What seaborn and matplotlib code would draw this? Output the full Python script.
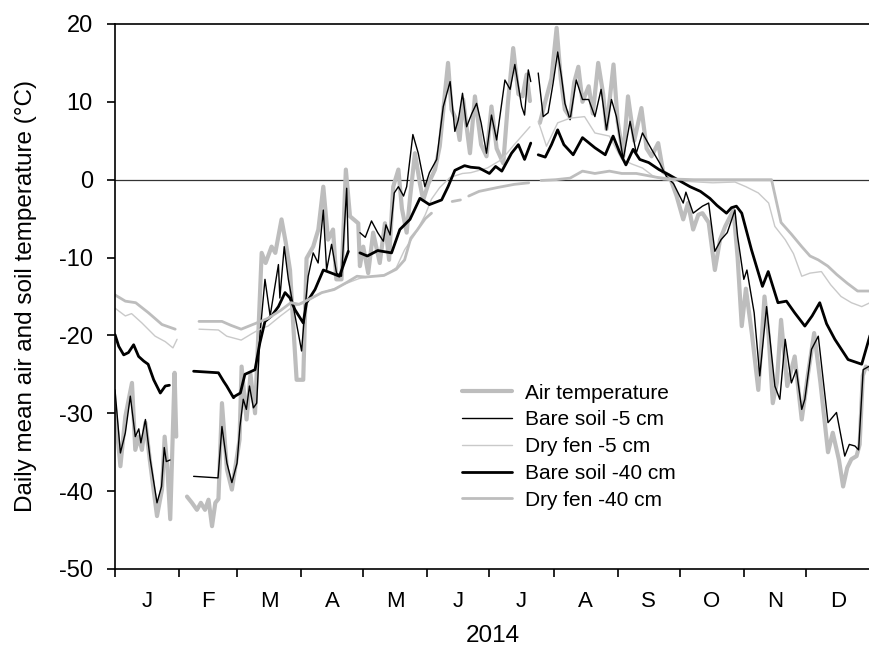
import numpy as np
import pandas as pd
import matplotlib
matplotlib.use('Agg')
import matplotlib.pyplot as plt
from matplotlib.lines import Line2D
import seaborn as sns

nan = np.nan

# day of year (0 = 1 Jan 2014) and daily means, NaN = gap
air_days = [0, 2.6, 5, 8.2, 9.8, 11.5, 13, 14.7, 17, 20.3, 22.7, 24, 25.3, 26.7, 28.8, 29.6, 32,
            34.8, 37.2, 39.6, 41.5, 43.5, 45.2, 46.9, 48.5, 50, 51.7, 54.1, 56.5, 59, 60.2, 61.2, 63.6,
            65.5, 67.7, 70.9, 72.8, 75.7, 77.5, 80.5, 82.5, 84.6, 86.2, 87.8, 91, 92.6, 95.8, 98.3,
            100.7, 103, 105.4, 107, 109.5, 111.6, 113.6, 117.6, 118.4, 120, 122.4, 124.8, 128, 130.5,
            132.5, 134.5, 137, 138.7, 141, 142.6, 145, 147.4, 149, 151.5, 154.7, 157, 159.5, 161,
            162.7, 165, 166.6, 168.3, 171.6, 174, 177, 179.6, 182, 184.5, 187.7, 190, 192.5, 195, 197,
            199, 200.6, 202.5, 205.4, 208, 211, 213.5, 215.5, 217.5, 220, 222, 224, 226, 229, 231,
            233.6, 236, 237.6, 241, 243, 245.7, 248, 251, 254.5, 257, 259.4, 262.6, 265, 268, 271.5,
            274.7, 277, 279.5, 282, 284, 287, 290, 292.5, 295, 299, 301, 303, 305, 308, 311, 314, 316,
            318, 320, 322, 325, 328.6, 332, 335, 338, 341, 344.7, 347, 350, 352, 354, 356, 358.5, 360,
            361.5, 363, 365]
air_temp = [-29.5, -36.8, -30.4, -26.1, -34.7, -33.0, -34.7, -31.2, -36.4, -43.2, -39.8, -33.0, -37.0,
            -43.6, -24.8, -33.0, nan,
            -40.7, -41.5, -42.4, -41.5, -42.4, -41.1, -44.5, -41.5, -41.0, -28.7, -37.2, -39.8, -35.5,
            -33.4, -24.0, -30.8, -25.0, -30.0, -9.4, -10.7, -8.6, -9.4, -5.1, -8.0, -11.6, -18.8, -25.7,
            -25.7, -10.1, -8.6, -6.4, -0.9, -7.7, -6.4, -12.8, -12.8, 1.3, -4.7, -5.6, -11.1, -8.6,
            -12.0, -6.8, -10.7, -5.6, -10.3, -0.9, 1.3, -3.7, -6.8, -2.4, 3.4, -0.5, -2.6, -0.5, 1.3,
            4.3, 11.1, 15.0, 9.0, 7.7, 5.1, 10.3, 3.4, 10.7, 4.5, 3.0, 9.4, 4.0, 2.1, 10.0, 16.9, 11.0,
            10.7, 13.5, 10.1, nan, 7.3, 10.0, 13.0, 19.5, 13.0, 9.0, 8.0, 12.5, 14.5, 10.0, 12.0, 8.5,
            15.0, 11.0, 6.5, 14.8, 7.5, 3.0, 10.7, 5.0, 9.2, 4.0, 3.0, 4.7, 1.0, 0.5, -2.1, -5.1, -3.0,
            -6.4, -4.5, -4.3, -5.5, -11.6, -7.7, -6.0, -3.9, -10.0, -18.8, -14.0, -20.0, -27.0, -15.0,
            -20.0, -28.7, -26.0, -18.0, -26.5, -22.7, -30.8, -25.0, -19.7, -26.0, -35.0, -32.5, -36.0,
            -39.4, -37.0, -35.9, -35.5, -34.0, -25.2, -24.0, -24.4]

bare5_days = [0, 2.6, 5, 7.4, 9.8, 11.5, 12.5, 14.7, 17, 20.3, 22.5, 23.8, 24.8, 26.6, 32,
              38, 49.8, 51.7, 54.1, 56.5, 59, 60.4, 62, 63.5, 65, 66.9, 68.5, 70, 72.5, 75, 77.3, 79,
              79.7, 81.8, 83.8, 86.2, 88.6, 90.2, 91.8, 93.4, 95.8, 98.2, 100.7, 102.3, 104.7, 107.1,
              109.5, 112, 112.8, 115, 118.4, 121, 124, 127, 129.7, 131, 133, 135, 137, 139.5, 141, 144,
              146.6, 149.8, 152, 155.5, 158.7, 162, 164.3, 166, 168, 170, 172.5, 174.8, 177, 179.6, 182,
              184.5, 188.5, 191, 193.3, 196.6, 198, 199.8, 201, 203, 204.6, 207, 209.4, 211.8, 214,
              215.8, 217.5, 220, 223, 226, 229, 232, 235, 237.6, 240, 242.4, 245.7, 249, 252, 255,
              259.4, 263.4, 266.6, 270, 274.7, 276, 279.5, 284, 287, 290, 293, 296, 299.7, 301, 304,
              305.5, 309, 311.7, 315, 319, 321.4, 324, 327, 329.4, 332, 333.5, 336.7, 340, 344.7, 348.8,
              352.8, 355, 357.7, 359.5, 361.7, 365]
bare5_temp = [-27.0, -35.1, -32.5, -27.8, -33.0, -32.0, -33.8, -30.8, -35.9, -41.5, -39.4, -34.4, -36.2,
              -36.0, nan,
              -38.1, -38.3, -31.7, -36.4, -38.9, -36.4, -31.7, -28.2, -29.5, -26.5, -29.3, -28.7, -20.1,
              -12.8, -17.5, -13.7, -10.9, -15.2, -8.6, -12.8, -16.3, -19.7, -22.0, -16.7, -12.4, -9.4,
              -10.7, -3.9, -11.6, -8.3, -12.0, -12.4, -1.1, -9.4, nan,
              -6.8, -7.4, -5.3, -6.8, -7.9, -5.8, -7.1, -1.7, -0.9, -2.1, -0.9, 5.8, 3.4, -0.9, 0.9, 2.6,
              9.4, 12.6, 6.2, 7.7, 11.1, 6.8, 8.5, 9.8, 7.3, 3.4, 8.3, 5.1, 12.8, 11.6, 14.8, 9.4, 8.3,
              14.1, 12.6, nan,
              13.7, 8.1, 8.6, 12.4, 16.4, 13.3, 9.8, 7.7, 12.8, 10.3, 10.3, 8.1, 11.6, 6.4, 10.3, 8.1,
              2.6, 7.5, 3.4, 6.0, 3.9, 2.1, 0.4, -0.5, -3.0, -1.6, -4.3, -3.4, -3.0, -9.2, -7.7, -6.8,
              -3.9, -7.3, -12.8, -11.6, -17.1, -25.2, -16.3, -26.5, -28.2, -20.5, -26.1, -24.4, -29.5,
              -28.2, -21.8, -20.1, -31.2, -29.9, -35.5, -34.0, -34.2, -34.7, -24.4, -23.9]

fen5_days = [0, 5, 8, 13, 19.4, 24.3, 28, 30, 35,
             40.6, 50, 54, 61, 66, 70, 74, 80, 86, 92, 100, 106, 112, 118, 125, 131, 136, 140, 145,
             150, 153, 157, 162, 168, 172, 180, 187, 193, 200.6, 202.5,
             204.6, 208.6, 214, 220, 227, 232, 239, 245, 250, 255, 260, 265, 275, 289, 299.7, 305,
             311, 316, 319, 324, 328, 332, 336, 341.5, 346, 351, 356, 361, 365]
fen5_temp = [-16.5, -17.5, -17.2, -18.4, -20.1, -20.8, -21.6, -20.5, nan,
             -19.2, -19.3, -20.1, -20.6, -19.8, -19.2, -18.8, -17.5, -16.3, -15.8, -14.5, -14.0,
             -13.3, -12.7, -12.4, -12.2, -11.3, -9.0, -7.0, -4.5, -2.5, -1.0, 0.3, 0.8, 0.9, 1.5,
             2.6, 4.5, 6.8, nan,
             7.5, 4.3, 7.3, 7.9, 8.1, 6.0, 5.6, 2.6, 2.0, 1.5, 0.5, 0.0, -0.2, -0.4, -0.3, -0.9,
             -1.7, -3.0, -6.0, -7.7, -9.5, -12.4, -12.0, -11.8, -13.5, -15.0, -15.8, -16.3, -15.8]

bare40_days = [0, 1.8, 4.2, 6.5, 9, 11.4, 13.9, 16, 18.7, 21.9, 24.3, 26.3, 32,
               38, 50, 52.5, 54, 57.3, 58, 60.6, 62.8, 67.7, 70, 72.5, 75.7, 79, 82.2, 84.6, 87, 91,
               92.6, 96.7, 100.7, 104.7, 108.5, 112.8, 115,
               118.4, 122, 127, 133.7, 137.7, 142.6, 147.4, 152, 157.9, 161, 164.3, 169, 172, 176,
               181, 184, 187, 191.7, 195, 198, 201, 203,
               204.6, 208, 211, 214, 217, 221.5, 226, 232, 237, 240.8, 244, 247, 250.5, 253.7, 258,
               263, 268, 272, 278, 283, 287.6, 291, 295.6, 298, 300.4, 303, 307.7, 313, 315.8, 320.5,
               324.6, 328.6, 333.5, 337, 340.7, 344, 348, 354.4, 361, 365]
bare40_temp = [-19.9, -21.4, -22.5, -22.2, -21.2, -22.7, -23.3, -23.7, -25.7, -27.4, -26.5, -26.4, nan,
               -24.6, -24.8, -25.9, -26.5, -28.0, -27.8, -27.4, -25.0, -24.4, -21.0, -18.2, -17.5,
               -16.3, -14.5, -15.2, -16.7, -18.4, -15.8, -14.1, -11.6, -12.0, -12.4, -9.2, nan,
               -9.4, -9.8, -9.1, -9.4, -6.4, -5.1, -2.4, -3.2, -2.6, -0.9, 1.2, 1.8, 1.6, 1.5, 0.8,
               1.7, 1.1, 3.4, 4.5, 2.6, 4.7, nan,
               3.2, 2.9, 4.5, 6.4, 4.5, 3.2, 5.4, 4.1, 3.2, 5.6, 3.5, 1.9, 3.9, 2.6, 2.2, 1.3, 0.6,
               0.0, -0.9, -1.5, -2.4, -3.3, -4.3, -3.6, -3.4, -4.3, -9.0, -13.7, -11.8, -15.8, -15.6,
               -17.1, -18.8, -17.5, -15.8, -18.5, -20.5, -23.1, -23.7, -20.0]

fen40_days = [0, 5, 10, 16.2, 22.7, 29.1, 35,
              40.6, 51.7, 56, 61, 68.5, 74, 80, 85, 89, 95, 100, 106, 112, 117, 121, 130, 136, 140,
              143, 146, 150, 153, 157,
              163, 167, 168.5,
              171, 176, 185, 193, 200, 202,
              206, 213, 220, 226, 232, 239, 245, 252, 258, 262, 268, 280, 300, 317.4, 322, 327, 332,
              336, 340, 344.6, 349, 354, 359, 365]
fen40_temp = [-14.8, -15.6, -15.8, -17.1, -18.6, -19.2, nan,
              -18.2, -18.2, -18.7, -19.2, -18.4, -17.8, -16.8, -15.8, -16.0, -15.2, -14.5, -14.1,
              -13.2, -12.4, -12.5, -12.3, -11.5, -10.3, -7.5, -6.5, -5.0, -4.3, nan,
              -2.8, -2.6, nan,
              -2.1, -1.5, -1.0, -0.6, -0.4, nan,
              -0.1, 0.0, 0.2, 1.1, 0.8, 1.1, 0.8, 0.8, 0.5, 0.3, 0.1, 0.0, 0.0, 0.0, -5.5, -7.0,
              -8.6, -9.8, -10.3, -11.1, -12.2, -13.3, -14.3, -14.3]

month_starts = [0, 31, 59, 90, 120, 151, 181, 212, 243, 273, 304, 334, 365]
month_labels = ['J', 'F', 'M', 'A', 'M', 'J', 'J', 'A', 'S', 'O', 'N', 'D']

series = [
    ('Air temperature', air_days, air_temp, '#bdbdbd', 3.0),
    ('Bare soil -5 cm', bare5_days, bare5_temp, 'black', 1.0),
    ('Dry fen -5 cm', fen5_days, fen5_temp, '#c9c9c9', 1.0),
    ('Bare soil -40 cm', bare40_days, bare40_temp, 'black', 2.0),
    ('Dry fen -40 cm', fen40_days, fen40_temp, '#bdbdbd', 2.0),
]

sns.set_style('ticks', {'text.color': 'black', 'axes.labelcolor': 'black',
                        'xtick.color': 'black', 'ytick.color': 'black'})
plt.rcParams['font.family'] = ['Liberation Sans', 'DejaVu Sans']
plt.rcParams['axes.unicode_minus'] = False

fig = plt.figure(figsize=(8.7, 6.46), dpi=100)
ax = fig.add_axes([0.1322, 0.1192, 0.8678, 0.8437])

ax.axhline(0, color='#333333', lw=0.9, zorder=0.5)

handles = []
for name, days, temps, color, lw in series:
    df = pd.DataFrame({'day': days, 'temp': temps})
    df['seg'] = df['temp'].isna().cumsum()
    df = df.dropna()
    sns.lineplot(data=df, x='day', y='temp', units='seg', estimator=None, sort=False,
                 color=color, lw=lw, ax=ax, legend=False)
    handles.append(Line2D([], [], color=color, lw=lw, label=name))

ax.set_xlim(0, 365)
ax.set_ylim(-50, 20)
ax.set_yticks(range(-50, 21, 10))
ax.set_xticks(month_starts[:-1])
ax.set_xticklabels([])
ax.set_xticks([(a + b) / 2 for a, b in zip(month_starts[:-1], month_starts[1:])], minor=True)
ax.set_xticklabels(month_labels, minor=True)
ax.tick_params(axis='x', which='major', direction='out', length=6, width=1.2, colors='black')
ax.tick_params(axis='x', which='minor', length=0, pad=16, labelsize=16, labelcolor='black')
ax.tick_params(axis='y', direction='out', length=6, width=1.2, pad=10, labelsize=17,
               colors='black')

for side in ['left', 'bottom', 'top']:
    ax.spines[side].set_visible(True)
    ax.spines[side].set_color('black')
    ax.spines[side].set_linewidth(1.2)
ax.spines['right'].set_visible(False)

ax.set_xlabel('2014', fontsize=17.5, labelpad=9, color='black')
ax.set_ylabel('Daily mean air and soil temperature (°C)', fontsize=17.5, labelpad=16, color='black')

leg = ax.legend(handles=handles, loc='upper left', bbox_to_anchor=(0.460, 0.34), frameon=False,
                fontsize=15, handlelength=2.4, handletextpad=0.6, labelspacing=0.37,
                borderaxespad=0, borderpad=0)
for t in leg.get_texts():
    t.set_color('black')

fig.savefig('out.png', dpi=100)
